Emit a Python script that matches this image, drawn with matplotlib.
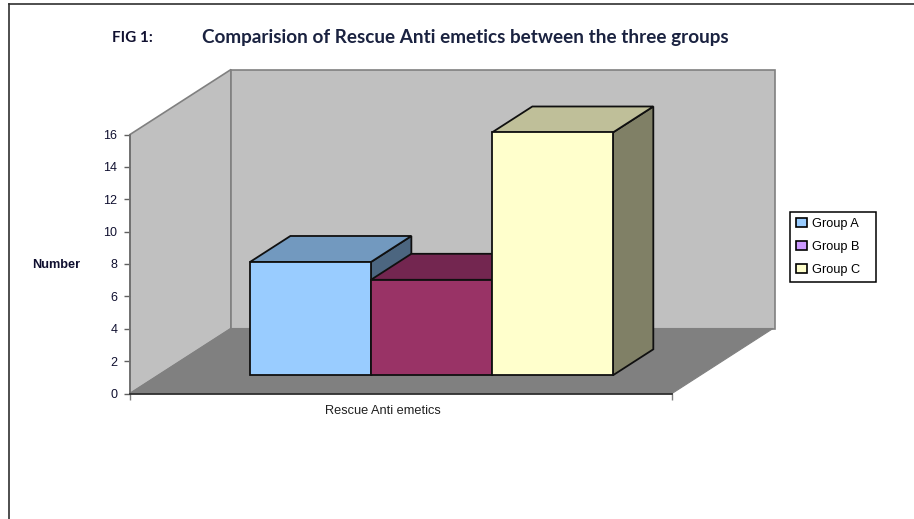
import matplotlib
matplotlib.use('Agg')
import matplotlib.pyplot as plt
from matplotlib.patches import Patch

W = 914; H = 519

groups = ['Group A', 'Group B', 'Group C']
values = [7, 5.9, 15]
front_cl = ['#99CCFF', '#993366', '#FFFFCC']
top_cl = ['#7299BF', '#732650', '#BFBF99']
side_cl = ['#4C6680', '#4D1A33', '#808066']
legend_cl = ['#99CCFF', '#CC99FF', '#FFFFCC']
yticks = list(range(0, 17, 2))

## oblique projection of the 3d box
ymax = 16
depth_x = 101/542
depth_y = 4.015
bar_w = 0.2232
bar_x0 = 0.1692
d_front = 0.28
d_back = 0.68

def proj(x, d, v):
    return x + d*depth_x, v + d*depth_y

def face(ax, corners, color, edge, lw, z):
    xs = [proj(*c)[0] for c in corners]
    ys = [proj(*c)[1] for c in corners]
    ax.fill(xs, ys, facecolor=color, edgecolor=edge, linewidth=lw, zorder=z,
            clip_on=False, joinstyle='miter')

fig = plt.figure(figsize=(W/100, H/100), dpi=100)
ax = fig.add_axes([130/W, (H-393.5)/H, 542/W, 259/H])
ax.set_xlim(0, 1)
ax.set_ylim(0, ymax)
ax.patch.set_alpha(0)

## walls and floor
face(ax, [(0, 0, 0), (0, 0, ymax), (0, 1, ymax), (0, 1, 0)], '#C0C0C0', '#808080', 1.2, 1)
face(ax, [(0, 1, 0), (0, 1, ymax), (1.004, 1, ymax), (1.004, 1, 0)], '#C0C0C0', '#808080', 1.2, 1)
face(ax, [(0, 0, 0), (1, 0, 0), (1, 1, 0), (0, 1, 0)], '#808080', '#808080', 0.8, 2)

## bars, left to right so the later ones cover the earlier ones
for ii in range(len(values)):
    x1 = bar_x0 + ii*bar_w
    x2 = x1 + bar_w
    v = values[ii]
    z = 3 + ii
    face(ax, [(x2, d_front, 0), (x2, d_back, 0), (x2, d_back, v), (x2, d_front, v)],
         side_cl[ii], '#101010', 1.3, z)
    face(ax, [(x1, d_front, v), (x2, d_front, v), (x2, d_back, v), (x1, d_back, v)],
         top_cl[ii], '#101010', 1.3, z)
    face(ax, [(x1, d_front, 0), (x2, d_front, 0), (x2, d_front, v), (x1, d_front, v)],
         front_cl[ii], '#101010', 1.3, z)

## axes
for s in ['top', 'right']:
    ax.spines[s].set_visible(False)
ax.spines['left'].set_color('#707070')
ax.spines['left'].set_linewidth(1.3)
ax.spines['bottom'].set_color('#303030')
ax.spines['bottom'].set_linewidth(1.3)
for s in ['left', 'bottom']:
    ax.spines[s].set_zorder(8)
ax.set_yticks(yticks)
ax.set_yticklabels([str(t) for t in yticks], fontsize=9, family='Liberation Sans', color='#101030')
ax.set_xticks([0, 1])
ax.set_xticklabels(['', ''])
ax.tick_params(axis='y', length=4, width=1, color='#606060', pad=5)
ax.tick_params(axis='x', length=4, width=1, color='#808080')

fs = 9.2
fig.text(383/W, 1-411/H, 'Rescue Anti emetics', fontsize=fs, family='Liberation Sans',
         color='#202020', ha='center', va='center')
fig.text(32/W, 1-265/H, 'Number', fontsize=fs, fontweight='bold', family='Liberation Sans',
         color='#101030', ha='left', va='center')
fig.text(112/W, 1-38/H, 'FIG 1:', fontsize=11, fontweight='bold', family='Lato',
         color='#101030', ha='left', va='center')
fig.text(202/W, 1-37/H, 'Comparision of Rescue Anti emetics between the three groups',
         fontsize=13.55, fontweight='bold', family='Lato', color='#1A2240', ha='left', va='center')

## legend
handles = [Patch(facecolor=legend_cl[i], edgecolor='black', linewidth=1.2, label=groups[i])
           for i in range(3)]
leg = fig.legend(handles=handles, loc='upper left',
                 bbox_to_anchor=(790/W, 1-282.5/H, 86/W, 70.5/H),
                 bbox_transform=fig.transFigure, mode='expand', fancybox=False, framealpha=1,
                 edgecolor='black', borderaxespad=0, borderpad=0.45, labelspacing=0.87,
                 handlelength=0.85, handleheight=0.7, handletextpad=0.4,
                 prop={'family': 'Liberation Sans', 'size': fs})
leg.get_frame().set_linewidth(1.1)

## page frame
fig.add_artist(plt.Line2D([9/W, 9/W], [0, 1-4/H], color='#303030', lw=1.2))
fig.add_artist(plt.Line2D([9/W, 1], [1-4/H, 1-4/H], color='#303030', lw=1.2))

fig.savefig('out.png', dpi=100)
